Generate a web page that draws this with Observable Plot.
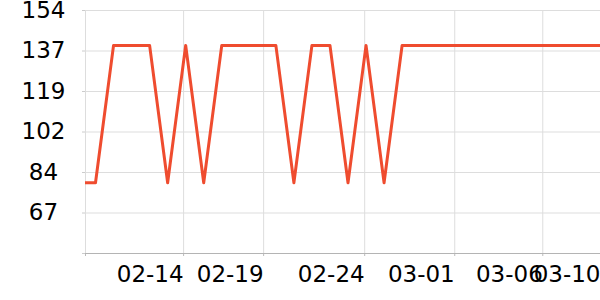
<!DOCTYPE html>
<html>
<head>
<meta charset="utf-8">
<script src="https://cdn.jsdelivr.net/npm/d3@7"></script>
<script src="https://cdn.jsdelivr.net/npm/@observablehq/plot@0.6"></script>
<style>
  html, body { margin: 0; padding: 0; background: #fff; }
  #chart { width: 600px; height: 300px; }
</style>
</head>
<body>
<div id="chart"></div>
<script>
// Day index of each point (0 = 02-08) and its value
const dayLabels = ["02-08","02-09","02-10","02-11","02-12","02-13","02-14","02-15","02-16","02-17",
                   "02-18","02-19","02-20","02-21","02-22","02-23","02-24","02-25","02-26","02-27",
                   "02-28","03-01","03-02","03-03","03-04","03-05","03-06","03-07","03-08","03-09"];
const values = [80, 80, 139, 139, 139, 80, 139, 80, 139, 139,
                139, 139, 80, 139, 139, 80, 139, 80, 139, 139,
                139, 139, 139, 139, 139, 139, 139, 139, 139, 139];

// x axis ticks (in day units) and their labels
const xStart = 0.445;
const xTickDays = [0.445, 5.884, 10.322, 15.925, 20.918, 25.8, 29];
const xTickLabels = ["", "02-14", "02-19", "02-24", "03-01", "03-06", "03-10"];

// y axis ticks
const yTicks = [154, 136.6, 119.2, 101.8, 84.4, 67, 49.6];
const yTickLabels = ["154", "137", "119", "102", "84", "67", ""];

const data = values.map((v, i) => ({day: i, label: dayLabels[i], value: v}));

const chart = Plot.plot({
  width: 600,
  height: 300,
  marginLeft: 85,
  marginRight: 0,
  marginTop: 10,
  marginBottom: 47,
  style: {fontFamily: "DejaVu Sans", background: "#fff", color: "#000"},
  x: {type: "linear", domain: [xStart, 29]},
  y: {domain: [49.6, 154]},
  marks: [
    Plot.gridY(yTicks.slice(0, -1), {stroke: "#dddddd", strokeOpacity: 1}),
    Plot.gridX(xTickDays.slice(1, -1), {stroke: "#dddddd", strokeOpacity: 1}),
    Plot.ruleX([xStart], {stroke: "#dddddd"}),
    Plot.axisY(yTicks, {
      tickFormat: (d, i) => yTickLabels[i],
      fontSize: 23, textAnchor: "middle",
      tickSize: 3, tickPadding: 39, stroke: "#cccccc", fill: "#000", label: null
    }),
    Plot.axisX(xTickDays, {
      tickFormat: (d, i) => xTickLabels[i],
      fontSize: 23, textAnchor: "end",
      tickSize: 3, tickPadding: 9, stroke: "#bbbbbb", fill: "#000", label: null
    }),
    Plot.ruleY([49.6], {stroke: "#b4b4b4"}),
    Plot.line(data, {x: "day", y: "value", stroke: "#ef4c2f", strokeWidth: 3, clip: true})
  ]
});
document.getElementById("chart").appendChild(chart);
</script>
</body>
</html>
